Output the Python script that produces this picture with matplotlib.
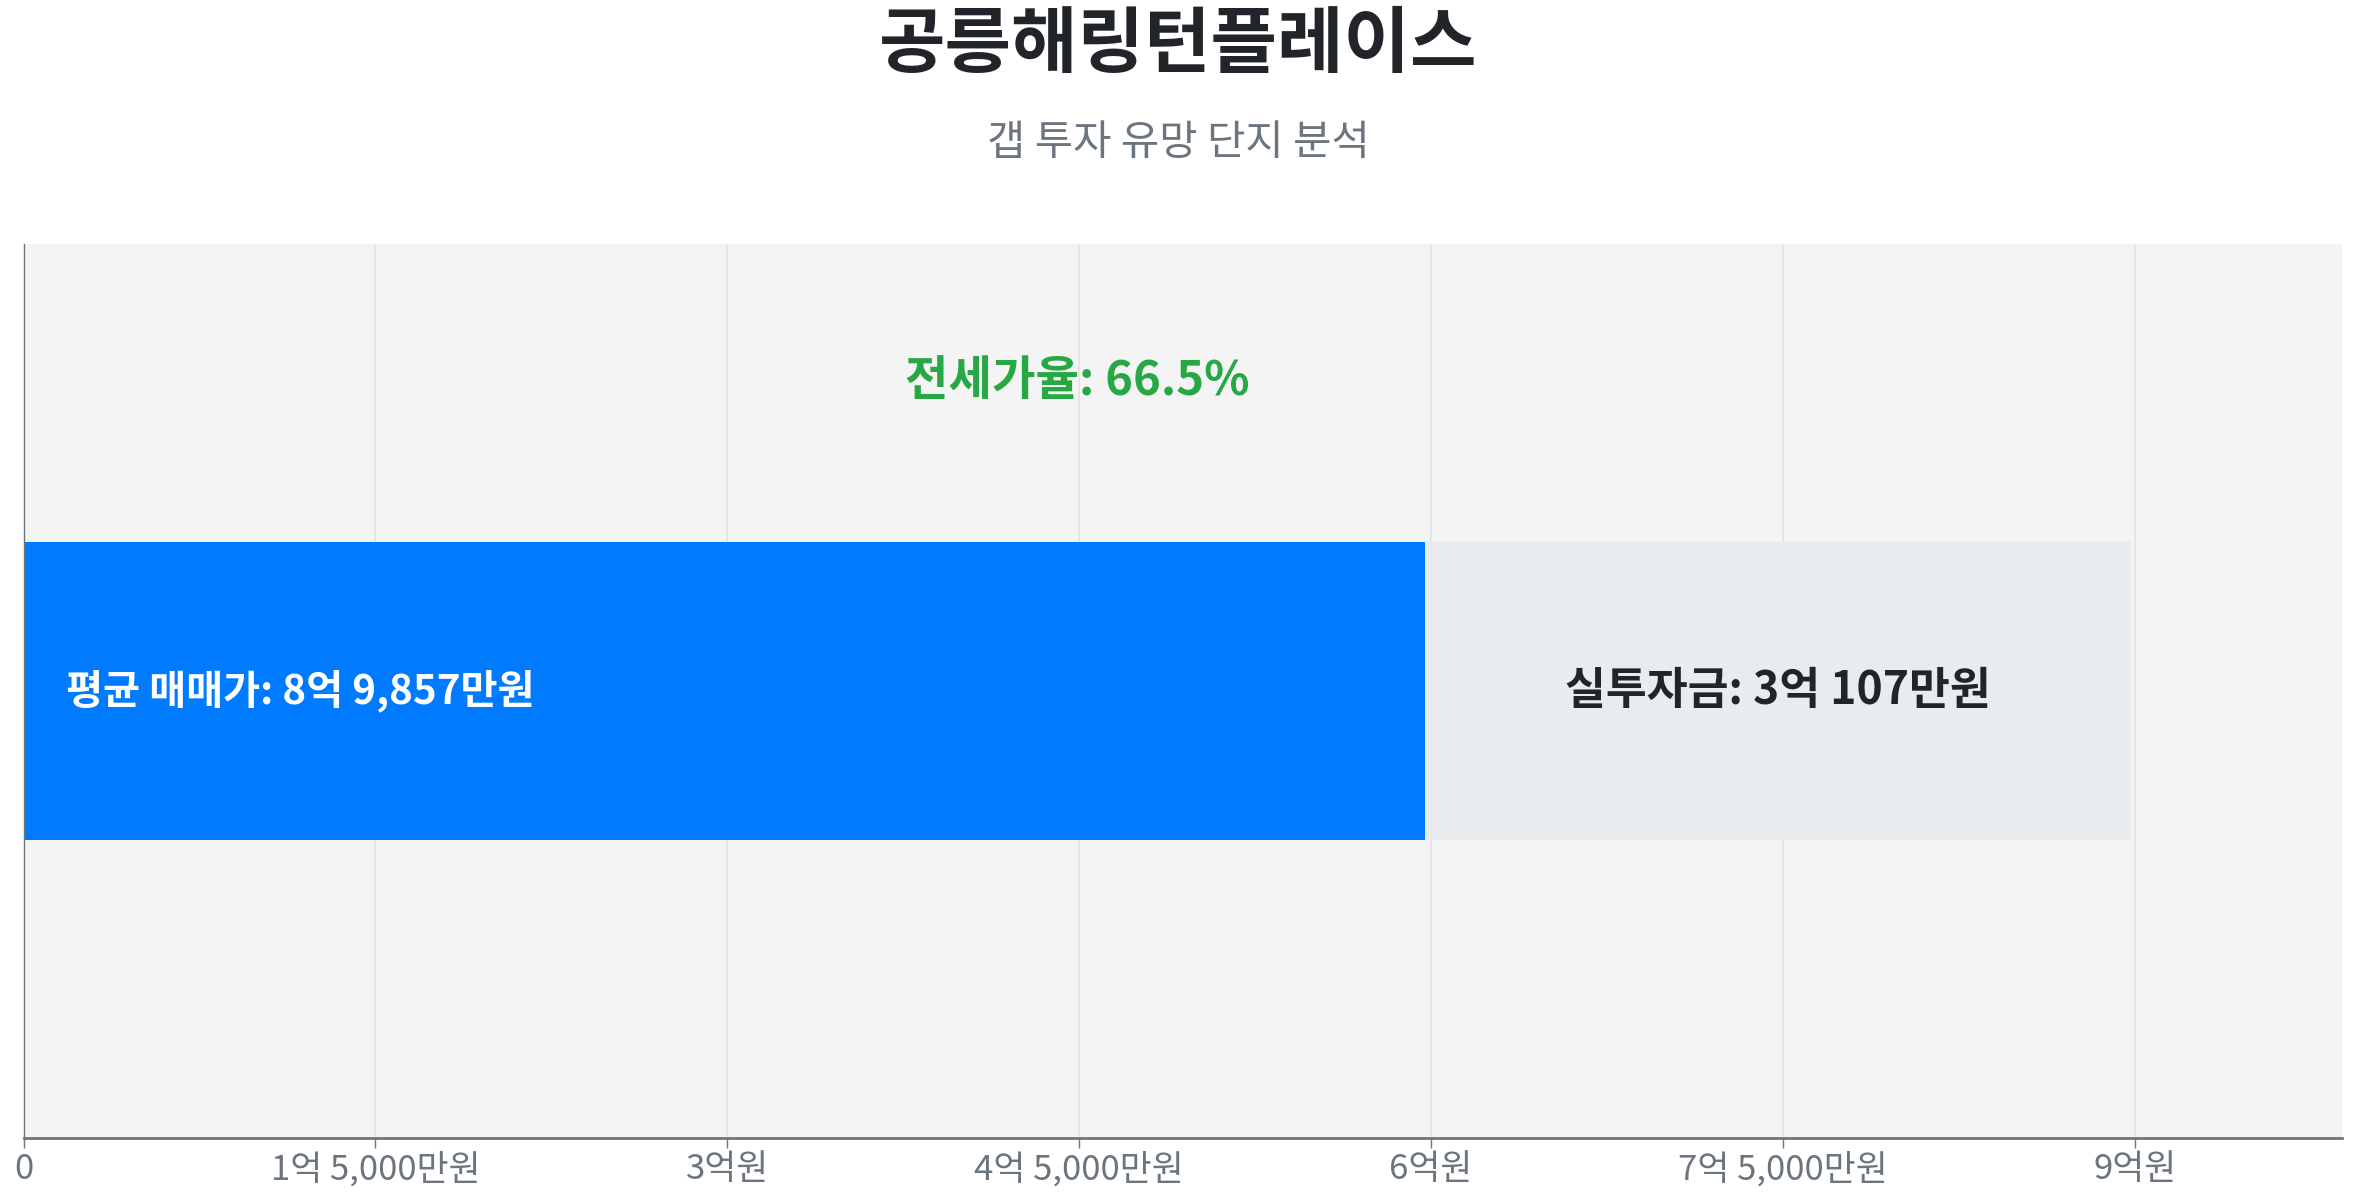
import matplotlib
matplotlib.use("Agg")
import matplotlib.pyplot as plt
from matplotlib.ticker import FuncFormatter, MultipleLocator

plt.rcParams['font.family'] = ['Noto Sans CJK KR', 'DejaVu Sans']

# ---- data (만원 단위) ----
complex_name = "공릉해링턴플레이스"
subtitle = "갭 투자 유망 단지 분석"
avg_sale_price = 89857      # 평균 매매가
gap_investment = 30107      # 실투자금
jeonse_price = avg_sale_price - gap_investment
jeonse_ratio = 66.5
tick_step = 15000


def fmt_won(v, pos=None):
    v = int(round(v))
    if v == 0:
        return "0"
    eok, man = divmod(v, 10000)
    if man == 0:
        return f"{eok}억원"
    if eok == 0:
        return f"{man:,}만원"
    return f"{eok}억 {man:,}만원"


fig = plt.figure(figsize=(23.57, 12), dpi=100)
ax = fig.add_axes([0.01, 0.0518, 0.9837, 0.745])
ax.set_facecolor("#f4f4f4")

ax.barh(0, jeonse_price, height=1.0, color="#007bff", zorder=2)
ax.barh(0, gap_investment, left=jeonse_price, height=1.0, color="#e9ecef",
        zorder=2)

ax.set_xlim(0, avg_sale_price * 1.1)
ax.set_ylim(-1.5, 1.5)

ax.xaxis.set_major_locator(MultipleLocator(tick_step))
ax.xaxis.set_major_formatter(FuncFormatter(fmt_won))
ax.set_yticks([])
ax.grid(axis="x", color="#e3e3e3", linewidth=1.2, zorder=0)
ax.set_axisbelow(True)

for s in ["top", "right"]:
    ax.spines[s].set_visible(False)
ax.spines["left"].set_color("#6c757d")
ax.spines["left"].set_linewidth(1.0)
ax.spines["bottom"].set_color("#6c757d")
ax.spines["bottom"].set_linewidth(2.0)
ax.tick_params(axis="x", colors="#6c757d", labelsize=25, length=7, width=1.0,
               pad=3)

# bar labels
ax.text(avg_sale_price * 0.02, 0, f"평균 매매가: {fmt_won(avg_sale_price)}",
        color="white", fontsize=29, fontweight="bold", va="center", ha="left",
        zorder=3)
ax.text(jeonse_price + gap_investment / 2, 0, f"실투자금: {fmt_won(gap_investment)}",
        color="#212529", fontsize=32, fontweight="bold", va="center", ha="center",
        zorder=3)
ax.text(avg_sale_price / 2, 1.04, f"전세가율: {jeonse_ratio}%",
        color="#28a745", fontsize=34, fontweight="bold", va="center", ha="center",
        zorder=3)

fig.text(0.5, 1 - 46 / 1200, complex_name, ha="center", va="center",
         fontsize=52, fontweight="bold", color="#212529")
fig.text(0.5, 1 - 143 / 1200, subtitle, ha="center", va="center",
         fontsize=30, color="#6c757d")

fig.savefig("out.png", dpi=100, facecolor="white")
